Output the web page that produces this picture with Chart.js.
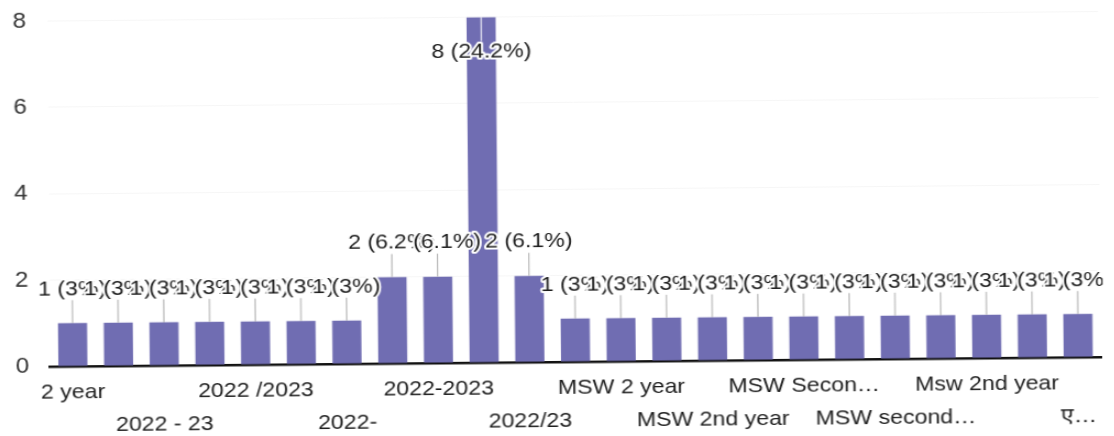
<!DOCTYPE html>
<html>
<head>
<meta charset="utf-8">
<script src="https://cdn.jsdelivr.net/npm/chart.js@4.4.1/dist/chart.umd.min.js"></script>
<style>
  html, body { margin: 0; padding: 0; background: #fff; }
  #wrap { position: relative; width: 1114px; height: 436px; overflow: hidden; }
  /* the scan is a bit wider than tall and slightly tilted */
  #chart { position: absolute; left: 0; top: 0; transform-origin: 0 367px; transform: rotate(-0.52deg) scaleX(1.1); }
</style>
</head>
<body>
<div id="wrap"><canvas id="chart" width="1013" height="436"></canvas></div>
<script>
// Data
const categories = [
    '2 year', '2 years', '2022 - 23', '2022 - 2023', '2022 /2023', '2022 to 2023',
    '2022-', '2022- 23', '2022-2023', '2022-23', '2022/23', '2023',
    'MSW 2 year', 'MSW 2 years', 'MSW 2nd year', 'MSW II year', 'MSW Secon…',
    'MSW final year', 'MSW second…', 'Msw 2 year', 'Msw 2nd year', 'msw 2nd year', 'ए…'
];
const counts = [1, 1, 1, 1, 1, 1, 1, 2, 2, 8, 2, 1, 1, 1, 1, 1, 1, 1, 1, 1, 1, 1, 1];
const yTicks = [0, 2, 4, 6, 8];

const total = counts.reduce((a, b) => a + b, 0);
const pct = (v) => Math.round(v / total * 1000) / 10;
const FONT = 'Arial, "Liberation Sans", sans-serif';

// "n (p%)" labels above each bar, with a white halo and a thin leader line
const barLabels = {
    id: 'barLabels',
    afterDatasetsDraw(chart) {
        const ctx = chart.ctx;
        const area = chart.chartArea;
        const bars = chart.getDatasetMeta(0).data;
        ctx.save();
        ctx.beginPath();
        ctx.rect(0, 0, area.right + 2, chart.height);
        ctx.clip();
        ctx.font = '21px ' + FONT;
        ctx.textAlign = 'center';
        ctx.textBaseline = 'middle';
        ctx.lineJoin = 'round';
        bars.forEach((bar, i) => {
            const text = counts[i] + ' (' + pct(counts[i]) + '%)';
            const inside = bar.y - 48 < area.top;
            const ty = inside ? bar.y + 35 : bar.y - 34;
            ctx.strokeStyle = inside ? '#fff' : '#aaaaaa';
            ctx.lineWidth = 1;
            ctx.beginPath();
            ctx.moveTo(bar.x, bar.y);
            ctx.lineTo(bar.x, inside ? ty - 11 : ty + 11);
            ctx.stroke();
            ctx.strokeStyle = '#fff';
            ctx.lineWidth = 4;
            ctx.strokeText(text, bar.x, ty);
            ctx.fillStyle = '#1c1c1c';
            ctx.fillText(text, bar.x, ty);
        });
        ctx.restore();
    }
};

new Chart(document.getElementById('chart'), {
    type: 'bar',
    data: {
        labels: categories,
        datasets: [{
            data: counts,
            backgroundColor: '#706db2',
            barPercentage: 0.636,
            categoryPercentage: 1
        }]
    },
    options: {
        responsive: false,
        animation: false,
        devicePixelRatio: 1,
        layout: { padding: { top: 21.5, right: 12, bottom: 0, left: 0 } },
        plugins: { legend: { display: false }, tooltip: { enabled: false } },
        scales: {
            x: {
                z: 1,
                grid: { display: false, drawTicks: false },
                border: { display: true, color: '#111', width: 2.5 },
                afterFit: (s) => { s.height = 69; },
                ticks: {
                    autoSkip: false,
                    maxRotation: 0,
                    minRotation: 0,
                    padding: 10,
                    color: '#1c1c1c',
                    font: { family: FONT, size: 21, lineHeight: 1.55 },
                    // every other label, alternating between two rows
                    callback: (value, index) => {
                        if (index % 2) return '';
                        return index % 4 === 0 ? categories[index] : ['', categories[index]];
                    }
                }
            },
            y: {
                min: 0,
                max: 8,
                afterFit: (s) => { s.width = 45.5; s.paddingTop = 0; s.paddingBottom = 0; },
                afterBuildTicks: (s) => { s.ticks = yTicks.map(v => ({ value: v })); },
                grid: { color: '#f6f6f6', drawTicks: false },
                border: { display: false },
                ticks: {
                    padding: 19,
                    color: '#333',
                    font: { family: FONT, size: 22 }
                }
            }
        }
    },
    plugins: [barLabels]
});
</script>
</body>
</html>
